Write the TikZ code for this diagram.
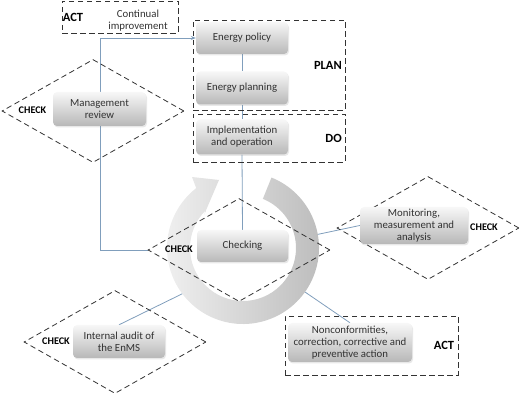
\documentclass[tikz,border=0pt]{standalone}
\usepackage{fontspec}
\setmainfont{Carlito}
\usetikzlibrary{shapes.geometric,shadows,arrows.meta}
\definecolor{conncol}{RGB}{128,158,188}
\definecolor{txtcol}{RGB}{50,50,50}
\pgfdeclarelayer{bg}
\pgfdeclarelayer{ringlayer}
\pgfsetlayers{bg,ringlayer,main}
\begin{document}
\begin{tikzpicture}[x=1pt,y=1pt,
  procbox/.style={rounded corners=4pt, top color=black!3, bottom color=black!28, draw=none,
    text=txtcol, align=center, font=\fontsize{10.8}{12.2}\selectfont, inner sep=0pt,
    drop shadow={opacity=0.18, shadow xshift=1pt, shadow yshift=-1.5pt}},
  dbox/.style={draw=black!80, dash pattern=on 5.5pt off 3.5pt, line width=0.8pt, inner sep=0pt},
  ddia/.style={diamond, dbox, minimum width=182pt, minimum height=103pt},
  conn/.style={draw=conncol, line width=0.8pt},
  biglab/.style={font=\bfseries\fontsize{12.5}{14}\selectfont, inner sep=0pt},
  chk/.style={font=\bfseries\fontsize{10.2}{12}\selectfont, inner sep=0pt},
  plain/.style={font=\fontsize{10.8}{12.2}\selectfont, text=txtcol, align=center, inner sep=0pt}
]
\useasboundingbox (0,0) rectangle (520,396);

% diamonds
\node[ddia] (mgmtdia) at (93,285) {};
\node[ddia] (chkdia) at (239,146) {};
\node[ddia] (mondia) at (428,168) {};
\node[ddia] (auddia) at (115,54) {};

% dashed frames
\node[dbox, minimum width=116pt, minimum height=32pt] (acttop) at (120,379) {};
\node[dbox, minimum width=152pt, minimum height=90pt] (planbox) at (269,331) {};
\node[dbox, minimum width=152pt, minimum height=48pt] (dobox) at (269,258) {};
\node[dbox, minimum width=173pt, minimum height=59pt] (actbot) at (371.5,50.5) {};

% process boxes
\node[procbox, minimum width=92pt, minimum height=32pt] (policy) at (242,358) {Energy policy};
\node[procbox, minimum width=92pt, minimum height=33pt] (planning) at (242,308) {Energy planning};
\node[procbox, minimum width=92pt, minimum height=35pt] (impl) at (242,259) {Implementation\\and operation};
\node[procbox, minimum width=93pt, minimum height=34pt] (mgmt) at (99.5,287) {Management\\review};
\node[procbox, minimum width=91pt, minimum height=32pt] (checking) at (242.5,150) {Checking};
\node[procbox, minimum width=108pt, minimum height=37pt] (monitor) at (414,170.5) {Monitoring,\\measurement and\\analysis};
\node[procbox, minimum width=124pt, minimum height=39pt] (noncon) at (350,53.5) {Nonconformities,\\correction, corrective and\\preventive action};
\node[procbox, minimum width=92pt, minimum height=33pt] (audit) at (119,54.5) {Internal audit of\\the EnMS};

% labels
\node[biglab] (actT) at (73,379) {ACT};
\node[plain] (contimp) at (138,375) {Continual\\improvement};
\node[biglab, anchor=east] (planlab) at (342,331) {PLAN};
\node[biglab, anchor=east] (dolab) at (342,258) {DO};
\node[biglab] (actB) at (444,51) {ACT};
\node[chk] (chk1) at (32.5,286) {CHECK};
\node[chk] (chk2) at (179,147) {CHECK};
\node[chk] (chk3) at (484,169) {CHECK};
\node[chk] (chk4) at (56,55) {CHECK};

% ring arrow
\coordinate (rc) at (243,148);
\begin{pgfonlayer}{ringlayer}
\shade[left color=black!5, right color=black!27]
  ([shift={(68:76)}]rc) arc[start angle=68, end angle=-232, radius=76]
  -- (192,219) -- (219,216) -- (204,181)
  -- ([shift={(-225:53)}]rc) arc[start angle=-225, end angle=68, radius=53] -- cycle;
\end{pgfonlayer}

% connectors
\coordinate (lx) at (100,0);
\coordinate (ringA) at (312,160.4);
\coordinate (ringB) at (300,107.4);
\coordinate (ringC) at (190,106);
\begin{pgfonlayer}{bg}
\draw[conn] (chkdia.west) -| (lx |- policy.west);
\draw[conn] (policy.south) -- (planning.north);
\draw[conn] (planning.south) -- (impl.north);
\draw[conn] (impl.south) -- (checking.north);
\draw[conn] (monitor.west) -- (ringA);
\draw[conn] (noncon.north) -- (ringB);
\draw[conn] (audit.north) -- (ringC);
\end{pgfonlayer}
\draw[conn, -{Stealth[length=5pt,width=4pt]}] (lx |- policy.west) -- (policy.west);
\end{tikzpicture}
\end{document}
